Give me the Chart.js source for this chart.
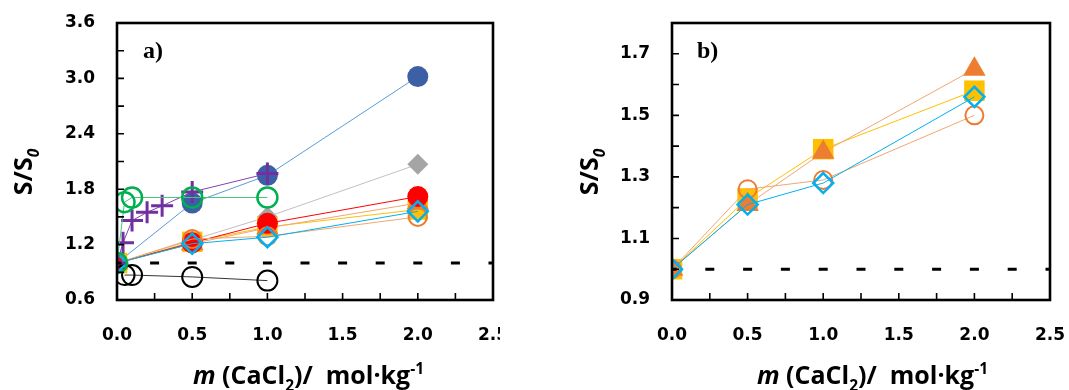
<!DOCTYPE html>
<html>
<head>
<meta charset="utf-8">
<script src="https://cdn.jsdelivr.net/npm/chart.js@4/dist/chart.umd.min.js"></script>
<style>
  html, body { margin: 0; padding: 0; background: #fff; }
  body { width: 1069px; height: 390px; position: relative; overflow: hidden; }
  .panel { position: absolute; top: 0; height: 390px; }
</style>
</head>
<body>
<div class="panel" style="left:0;width:500px;overflow:hidden">
  <div style="width:535px;height:390px;position:relative"><canvas id="chartA"></canvas></div>
</div>
<div class="panel" style="left:535px;width:534px">
  <div style="width:534px;height:390px;position:relative"><canvas id="chartB"></canvas></div>
</div>
<script>
// values: S/S0 vs CaCl2 molality
const MOLALITY = [0, 0.5, 1.0, 2.0];
const ratioOrangeCircle = [1.0, 1.26, 1.29, 1.50];
const ratioOrangeTriangle = [1.0, 1.21, 1.38, 1.65];
const ratioGoldSquare = [1.0, 1.23, 1.39, 1.58];
const ratioCyanDiamond = [1.0, 1.21, 1.28, 1.56];
const ratioRed = [1.0, 1.22, 1.43, 1.72];
const ratioGray = [1.0, 1.25, 1.50, 2.07];
const ratioBlue = [1.0, 1.65, 1.95, 3.02];

const MOL_PURPLE = [0, 0.04, 0.1, 0.2, 0.3, 0.5, 1.0];
const ratioPurple = [1.0, 1.22, 1.46, 1.55, 1.62, 1.77, 1.97];
const MOL_GREEN = [0, 0.05, 0.1, 0.5, 1.0];
const ratioGreen = [1.0, 1.66, 1.71, 1.71, 1.71];
const MOL_BLACK = [0.05, 0.1, 0.5, 1.0];
const ratioBlack = [0.87, 0.87, 0.85, 0.81];

const REF_X = [0, 2.5];
const REF_Y = [1.0, 1.0];

const Y_A = { min: 0.6, max: 3.6, step: 0.3 };
const Y_B = { min: 0.9, max: 1.8, step: 0.1 };
const X_AXIS = { min: 0, max: 2.5, step: 0.25 };

Chart.defaults.font.family = 'DejaVu Sans';
Chart.defaults.color = '#000';

function pts(xs, ys) { return xs.map((x, i) => ({ x: x, y: ys[i] })); }

function series(xs, ys, o) {
  return {
    data: pts(xs, ys),
    showLine: true,
    borderColor: o.line,
    borderWidth: 1,
    pointStyle: o.style,
    pointRadius: o.r,
    pointBackgroundColor: o.fill,
    pointBorderColor: o.stroke,
    pointBorderWidth: o.bw
  };
}

function refLine() {
  return {
    data: pts(REF_X, REF_Y),
    showLine: true,
    borderColor: '#000',
    borderWidth: 3,
    pointRadius: 0,
    borderDash: (c) => {
      const s = c.chart.scales.x;
      const p = s ? Math.abs(s.getPixelForValue(0.25) - s.getPixelForValue(0)) : 37.6;
      return [9, p - 9];
    },
    borderDashOffset: 4.5
  };
}

const orangeCircle = series(MOLALITY, ratioOrangeCircle, { line: '#F2A672', style: 'circle', r: 9, fill: 'rgba(0,0,0,0)', stroke: '#ED7D31', bw: 2 });
const orangeTriangle = series(MOLALITY, ratioOrangeTriangle, { line: '#F2A672', style: 'triangle', r: 13, fill: '#ED7D31', stroke: '#ED7D31', bw: 0 });
const goldSquare = series(MOLALITY, ratioGoldSquare, { line: '#FFC000', style: 'rect', r: 14.5, fill: '#FFC000', stroke: '#FFC000', bw: 0 });
const cyanDiamond = series(MOLALITY, ratioCyanDiamond, { line: '#00B0F0', style: 'rectRot', r: 10, fill: 'rgba(0,0,0,0)', stroke: '#00B0F0', bw: 2.5 });

function buildDatasetsA() {
  return [
    refLine(),
    series(MOL_GREEN, ratioGreen, { line: '#4CC47E', style: 'circle', r: 10, fill: 'rgba(0,0,0,0)', stroke: '#00B050', bw: 2.5 }),
    series(MOL_PURPLE, ratioPurple, { line: '#7E45B0', style: 'cross', r: 11, fill: '#7030A0', stroke: '#7030A0', bw: 3 }),
    cyanDiamond,
    series(MOL_BLACK, ratioBlack, { line: '#333', style: 'circle', r: 10, fill: 'rgba(0,0,0,0)', stroke: '#000', bw: 2 }),
    orangeCircle,
    series(MOLALITY, ratioRed, { line: '#FF0000', style: 'circle', r: 10.5, fill: '#FF0000', stroke: '#FF0000', bw: 0 }),
    orangeTriangle,
    goldSquare,
    series(MOLALITY, ratioGray, { line: '#C0C0C0', style: 'rectRot', r: 10.5, fill: '#A5A5A5', stroke: '#A5A5A5', bw: 0 }),
    series(MOLALITY, ratioBlue, { line: '#5B9BD5', style: 'circle', r: 10.5, fill: '#3D5FA5', stroke: '#3D5FA5', bw: 0 })
  ];
}

function buildDatasetsB() {
  return [refLine(), cyanDiamond, orangeCircle, orangeTriangle, goldSquare];
}

// draws text runs with sub/superscripts and mixed italics
function runFont(r, size) {
  const fs = r.small ? size * 0.62 : size;
  return (r.italic ? 'italic ' : '') + 'bold ' + fs + 'px "Open Sans"';
}
function drawRuns(ctx, runs, x, y, size) {
  let cx = x;
  runs.forEach(r => {
    ctx.font = runFont(r, size);
    const dy = r.sub ? size * 0.28 : r.sup ? -size * 0.42 : 0;
    ctx.fillText(r.t, cx, y + dy);
    cx += ctx.measureText(r.t).width;
  });
  return cx - x;
}
function runsWidth(ctx, runs, size) {
  let w = 0;
  runs.forEach(r => { ctx.font = runFont(r, size); w += ctx.measureText(r.t).width; });
  return w;
}

const X_TITLE = [
  { t: 'm', italic: true }, { t: ' (CaCl' }, { t: '2', small: true, sub: true },
  { t: ')/  mol\u00B7kg' }, { t: '-1', small: true, sup: true }
];
const Y_TITLE = [{ t: 'S/S' }, { t: '0', small: true, sub: true, italic: true }];

const framePlugin = {
  id: 'frame',
  afterDraw(chart) {
    const o = chart.options.plugins.frame;
    const { ctx, chartArea: a, scales } = chart;
    const sx = scales.x, sy = scales.y;
    ctx.save();
    ctx.strokeStyle = '#000';
    ctx.lineWidth = 1.6;
    ctx.beginPath();
    sx.ticks.forEach(t => {
      const px = sx.getPixelForValue(t.value);
      ctx.moveTo(px, a.bottom); ctx.lineTo(px, a.bottom - 7);
    });
    sy.ticks.forEach(t => {
      const py = sy.getPixelForValue(t.value);
      ctx.moveTo(a.left, py); ctx.lineTo(a.left + 7, py);
    });
    ctx.stroke();
    ctx.lineWidth = 2.6;
    ctx.strokeRect(a.left, a.top, a.right - a.left, a.bottom - a.top);

    ctx.fillStyle = '#000';
    ctx.textBaseline = 'alphabetic';
    ctx.textAlign = 'left';
    ctx.font = 'bold 24px "Liberation Serif"';
    ctx.fillText(o.letter, a.left + o.letterDx, 58);

    drawRuns(ctx, X_TITLE, o.xTitleLeft, 384, 25);

    ctx.translate(o.yTitleX, 172);
    ctx.rotate(-Math.PI / 2);
    const w = runsWidth(ctx, Y_TITLE, 25);
    drawRuns(ctx, Y_TITLE, -w / 2, 0, 25);
    ctx.restore();
  }
};

// invisible tick marks give the label gap without adding layout padding
const hiddenGrid = { display: true, drawOnChartArea: false, drawTicks: true, color: 'rgba(0,0,0,0)' };

function makeOptions(yr, yLabel, yWidth, padRight, frame) {
  return {
    responsive: true,
    maintainAspectRatio: false,
    animation: false,
    layout: { padding: { left: 0, top: 23, right: padRight, bottom: 0 } },
    plugins: { legend: { display: false }, tooltip: { enabled: false }, frame: frame },
    scales: {
      x: {
        type: 'linear', min: X_AXIS.min, max: X_AXIS.max,
        grid: Object.assign({ tickLength: 25 }, hiddenGrid),
        border: { display: false },
        afterFit: (s) => { s.height = 90; },
        ticks: {
          stepSize: X_AXIS.step, autoSkip: false, maxRotation: 0, padding: 0,
          font: { size: 17, weight: 'bold' },
          callback: (v) => (Math.round(v * 100) % 50 === 0 ? v.toFixed(1) : '')
        }
      },
      y: {
        type: 'linear', min: yr.min, max: yr.max,
        grid: Object.assign({ tickLength: 22 }, hiddenGrid),
        border: { display: false },
        afterFit: (s) => { s.width = yWidth; },
        ticks: {
          stepSize: yr.step, autoSkip: false, padding: 0,
          font: { size: 17, weight: 'bold' },
          callback: (v) => (yLabel(v) ? v.toFixed(1) : '')
        }
      }
    }
  };
}

new Chart(document.getElementById('chartA'), {
  type: 'scatter',
  data: { datasets: buildDatasetsA() },
  options: makeOptions(Y_A, v => Math.round(v * 10) % 6 === 0, 117, 42,
    { letter: 'a)', letterDx: 26, xTitleLeft: 193, yTitleX: 32 }),
  plugins: [framePlugin]
});

new Chart(document.getElementById('chartB'), {
  type: 'scatter',
  data: { datasets: buildDatasetsB() },
  options: makeOptions(Y_B, v => Math.round(v * 10) % 2 === 1, 137, 19,
    { letter: 'b)', letterDx: 25, xTitleLeft: 222, yTitleX: 63 }),
  plugins: [framePlugin]
});
</script>
</body>
</html>
